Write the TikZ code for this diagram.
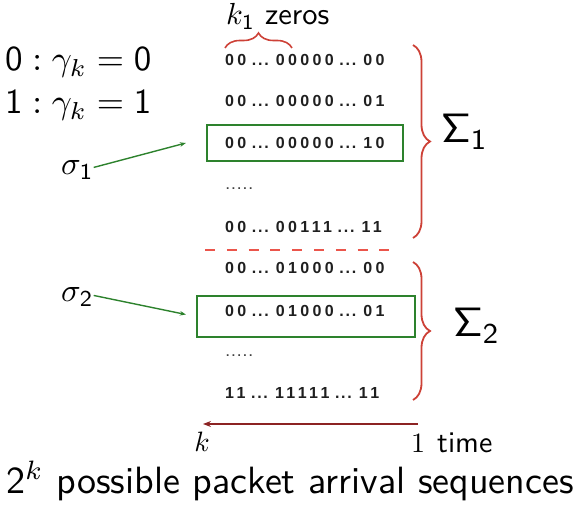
\RequirePackage{fix-cm}
\documentclass[tikz,border=0pt]{standalone}
\usepackage{graphicx}
\usepackage{fontspec}
\usetikzlibrary{decorations.pathreplacing,arrows.meta}
\newfontfamily\digfont{Liberation Sans}[LetterSpace=21]
\newfontfamily\ellfont{Liberation Sans}[LetterSpace=11]
\newfontfamily\dotfont{Liberation Sans}[LetterSpace=20]
\DeclareMathAlphabet{\mathsfo}{OT1}{cmss}{m}{n}
\definecolor{boxgreen}{RGB}{45,130,45}
\definecolor{bracered}{RGB}{205,65,55}
\definecolor{dashred}{RGB}{235,85,75}
\definecolor{timered}{RGB}{140,35,35}
% 10pt text, enlarged as a whole so that the design size stays that of 10pt
\newcommand\lbl[2]{\scalebox{#1}{\sffamily\fontsize{10}{12}\selectfont #2}}
% a bit sequence: digits spread out, the ellipses kept tight
\newcommand\bitrow[3]{{\bfseries\fontsize{16}{18}\selectfont
  {\digfont#1}\hspace{5.6pt}{\ellfont...}\hspace{7.1pt}%
  {\digfont#2}\hspace{5.6pt}{\ellfont...}\hspace{7.1pt}%
  {\digfont#3}}}
\tikzset{
  bits/.style={anchor=base west, inner sep=0pt, text=black!88},
  dots/.style={anchor=base west, inner sep=0pt, text=black!75,
    font=\dotfont\bfseries\fontsize{12}{14}\selectfont},
  lab/.style={inner sep=0pt, anchor=base west},
  selbox/.style={draw=boxgreen, line width=2.2pt, inner sep=0pt},
  ptr/.style={draw=boxgreen, line width=1.4pt, -{Stealth[length=6pt,width=4.5pt]}},
  setbrace/.style={draw=bracered, line width=1.8pt, decorate,
    decoration={brace, amplitude=17pt}},
}
\begin{document}
\begin{tikzpicture}[x=1pt,y=-1pt]
\useasboundingbox (0,0) rectangle (579,505);

% value of a single arrival
\node[lab] (eq0) at (5,71) {\lbl{3.5}{$\mathsfo{0} : \gamma_k = \mathsfo{0}$}};
\node[lab] (eq1) at (5,114) {\lbl{3.5}{$\mathsfo{1} : \gamma_k = \mathsfo{1}$}};

% leading-zero count
\node[lab] (kz) at (226,25) {\lbl{3.05}{$k_{\mathsfo{1}}$ zeros}};
\draw[draw=bracered, line width=1.6pt, decorate, decoration={brace, amplitude=15pt}]
  (225,48) -- (292,48);

% first group of sequences
\node[bits] (r1) at (225,66) {\bitrow{00}{00000}{00}};
\node[bits] (r2) at (225,106.5) {\bitrow{00}{00000}{01}};
\node[bits] (r3) at (225,148.5) {\bitrow{00}{00000}{10}};
\node[dots] (r4) at (226,190) {.....};
\node[bits] (r5) at (225,232.5) {\bitrow{00}{00111}{11}};

% boundary between the groups
\draw[dashred, line width=2.5pt, dash pattern=on 10pt off 11.8pt] (205,250) -- (400,250);

% second group of sequences
\node[bits] (r6) at (225,273.5) {\bitrow{00}{01000}{00}};
\node[bits] (r7) at (225,316.5) {\bitrow{00}{01000}{01}};
\node[dots] (r8) at (226,357) {.....};
\node[bits] (r9) at (225,398.5) {\bitrow{11}{11111}{11}};

% selected sequences
\node[selbox, minimum width=196pt, minimum height=36pt] (box1) at (305,143) {};
\node[selbox, minimum width=218pt, minimum height=41pt] (box2) at (306,316.5) {};

\node[lab] (s1) at (61,175) {\lbl{3.25}{$\sigma_{\mathsfo{1}}$}};
\node[lab] (s2) at (61,302) {\lbl{3.25}{$\sigma_{\mathsfo{2}}$}};
\draw[ptr] ([yshift=3pt]s1.east) -- ([xshift=-20pt]box1.west);
\draw[ptr] ([yshift=2pt]s2.east) -- ([xshift=-10pt,yshift=2pt]box2.west);

% group braces
\draw[setbrace] (413,45) -- (413,238);
\draw[setbrace] (413,262) -- (413,400);
\node[lab] (S1) at (441,143) {\lbl{4.1}{$\mathsfo{\Sigma}_{\mathsfo{1}}$}};
\node[lab] (S2) at (453,337) {\lbl{4.1}{$\mathsfo{\Sigma}_{\mathsfo{2}}$}};

% time axis
\coordinate (tstart) at (418,424);
\coordinate (tend) at (203,424);
\draw[timered, line width=2.4pt, -{Stealth[length=8pt,width=6pt]}] (tstart) -- (tend);
\node[inner sep=0pt, anchor=base] (tk) at (202,451) {\lbl{2.8}{$k$}};
\node[inner sep=0pt, anchor=base] (t1) at (418,452) {\lbl{2.8}{$1$}};
\node[lab] (time) at (437,452) {\lbl{3.0}{time}};

% caption
\node[lab] (cap) at (6,493) {\lbl{3.8}{$\mathsfo{2}^k$ possible packet arrival sequences}};
\end{tikzpicture}
\end{document}
